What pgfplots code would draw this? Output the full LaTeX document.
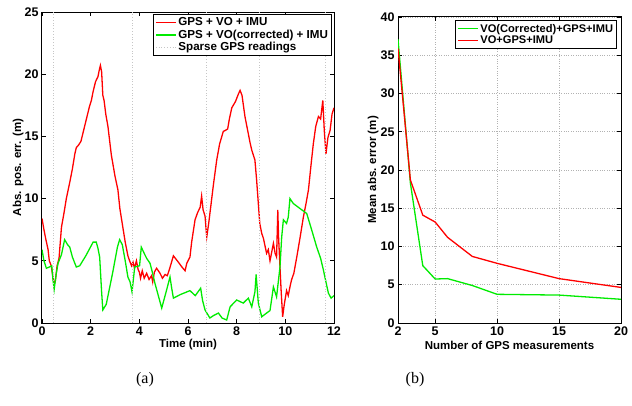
\documentclass[border=0pt]{standalone}
\usepackage{fontspec}
\setmainfont{Liberation Sans}
\newfontfamily\capfont{Liberation Serif}
\usepackage{pgfplots}
\pgfplotsset{compat=1.18}

\definecolor{mred}{RGB}{255,0,0}
\definecolor{mgreen}{RGB}{0,235,0}

\pgfplotsset{
  mstyle/.style={
    scale only axis, anchor=south west,
    tick align=inside, major tick length=4pt,
    tick style={black, line width=0.8pt},
    axis line style={line width=1pt},
    /pgf/number format/assume math mode=true,
    tick label style={font=\fontsize{12.5}{13}\selectfont\bfseries},
    label style={font=\fontsize{11.5}{13}\selectfont\bfseries},
    legend style={draw=black, line width=0.9pt,
      inner sep=1.5pt, row sep=-1.5pt, cells={anchor=west}},
    legend image code/.code={\draw[#1,line width=1.3pt] (0pt,0pt) -- (20pt,0pt);},
  },
}

\begin{document}
\begin{tikzpicture}[x=1pt,y=1pt]
\path[use as bounding box] (0,0) rectangle (632,405);

% (a) absolute position error over time
\begin{axis}[mstyle,
  at={(42pt,82pt)}, width=292pt, height=311pt,
  xmin=0, xmax=12, ymin=0, ymax=25,
  xtick={0,2,...,12}, ytick={0,5,...,25},
  xlabel={Time (min)}, ylabel={Abs. pos. err. (m)},
  xlabel style={at={(axis description cs:0.5,-0.068)}, anchor=center},
  ylabel style={at={(axis description cs:-0.082,0.5)}, anchor=center},
  legend style={at={(0.993,0.994)}, anchor=north east,
    font=\fontsize{11.6}{14}\selectfont\bfseries},
]
\addplot[mred, line width=1.3pt] coordinates {
(0,8.4) (0.08,7.5) (0.15,6.8) (0.25,5.9) (0.3,5.0) (0.38,4.6) (0.45,3.7) (0.5,3.1)
(0.55,3.4) (0.62,4.6) (0.7,5.2) (0.8,7.7) (0.9,8.8) (1.0,10.0) (1.14,11.3) (1.25,12.4)
(1.35,13.6) (1.41,14.1) (1.5,14.3) (1.6,14.6) (1.8,16.2) (1.95,17.4) (2.03,17.9) (2.1,18.6)
(2.2,19.4) (2.3,19.8) (2.35,20.3) (2.40,20.7) (2.45,20.2) (2.5,18.3) (2.55,17.9) (2.62,16.8)
(2.71,15.8) (2.85,13.5) (3.0,11.8) (3.12,10.7) (3.2,9.2) (3.33,7.6) (3.42,6.5) (3.53,5.4)
(3.6,5.0) (3.68,4.6) (3.74,4.9) (3.8,4.4) (3.88,5.0) (3.95,4.3) (4.0,4.1) (4.05,3.6)
(4.12,4.2) (4.2,3.6) (4.3,4.0) (4.4,3.5) (4.5,3.8) (4.55,3.3) (4.62,4.1) (4.71,4.4)
(4.85,4.0) (4.95,3.6) (5.06,3.9) (5.15,3.8) (5.25,4.4) (5.4,5.4) (5.6,4.9) (5.75,4.5)
(5.88,4.2) (5.95,4.8) (6.08,5.3) (6.15,6.5) (6.29,8.3) (6.4,8.9) (6.5,9.3) (6.56,10.2)
(6.62,9.1) (6.7,8.6) (6.77,6.9) (6.85,8.0) (6.95,9.6) (7.05,11.2) (7.18,13.1) (7.3,14.4)
(7.45,15.4) (7.55,15.5) (7.63,15.6) (7.7,16.4) (7.8,17.3) (7.95,17.8) (8.07,18.4) (8.14,18.7)
(8.22,18.3) (8.34,16.6) (8.45,15.5) (8.55,14.5) (8.62,13.9) (8.75,13.1) (8.82,11.5) (8.89,9.6)
(8.95,8.0) (9.03,7.2) (9.1,6.8) (9.23,5.6) (9.3,5.9) (9.37,5.0) (9.45,5.8) (9.51,6.4)
(9.58,5.6) (9.64,5.3) (9.67,7.5) (9.69,9.1) (9.72,7.0) (9.78,4.5) (9.83,2.5) (9.89,0.5)
(9.95,1.4) (10.05,2.6) (10.12,2.2) (10.2,3.0) (10.26,3.5) (10.35,4.0) (10.47,5.3) (10.6,6.8)
(10.74,8.5) (10.85,9.6) (10.95,10.7) (11.05,12.6) (11.15,14.4) (11.25,15.8) (11.36,16.6) (11.45,16.4)
(11.54,17.9) (11.6,15.5) (11.67,13.6) (11.75,14.9) (11.84,15.5) (11.92,16.8) (12.0,17.3)
};
\addlegendentry{GPS + VO + IMU}
\addplot[mgreen, line width=1.3pt] coordinates {
(0,5.9) (0.08,5.0) (0.18,4.4) (0.3,4.5) (0.4,4.6) (0.45,3.5) (0.5,2.7) (0.58,3.9)
(0.66,4.8) (0.8,5.5) (0.93,6.7) (1.05,6.3) (1.14,6.1) (1.25,5.3) (1.41,4.5) (1.55,4.6)
(1.8,5.4) (2.1,6.5) (2.23,6.5) (2.3,6.0) (2.37,5.3) (2.45,2.5) (2.5,1.05) (2.64,1.5)
(2.9,4.0) (3.1,6.1) (3.19,6.7) (3.3,6.3) (3.42,5.0) (3.53,3.7) (3.62,3.3) (3.7,2.5)
(3.81,4.5) (4.01,4.6) (4.08,6.1) (4.2,5.6) (4.3,5.2) (4.44,4.8) (4.52,4.2) (4.64,3.2)
(4.78,2.2) (4.92,1.2) (5.1,2.5) (5.26,3.7) (5.33,2.8) (5.4,2.0) (5.7,2.3) (6.08,2.6)
(6.3,2.2) (6.52,2.8) (6.6,1.8) (6.7,1.05) (6.9,0.4) (7.05,0.6) (7.25,0.8) (7.4,0.4)
(7.59,0.24) (7.73,1.3) (8.0,1.85) (8.27,1.6) (8.48,2.0) (8.62,1.3) (8.75,2.5) (8.8,3.9)
(8.89,1.6) (9.03,0.5) (9.23,0.8) (9.37,1.0) (9.51,2.9) (9.64,2.1) (9.78,4.5) (9.85,6.9)
(9.92,8.3) (10.05,8.0) (10.12,8.5) (10.19,10.0) (10.33,9.6) (10.88,8.8) (11.08,7.5) (11.29,6.1)
(11.45,5.2) (11.56,4.3) (11.68,3.2) (11.77,2.4) (11.88,2.0) (12.0,2.2)
};
\addlegendentry{GPS + VO(corrected) + IMU}
\addplot[gray!45, dotted, line width=0.8pt] coordinates {(0.48,0) (0.48,25)};
\addlegendentry{Sparse GPS readings}
\addplot[gray!45, dotted, line width=0.8pt, forget plot] coordinates {(3.7,0) (3.7,25)};
\addplot[gray!45, dotted, line width=0.8pt, forget plot] coordinates {(6.77,0) (6.77,25)};
\addplot[gray!45, dotted, line width=0.8pt, forget plot] coordinates {(8.95,0) (8.95,25)};
\addplot[gray!45, dotted, line width=0.8pt, forget plot] coordinates {(11.66,0) (11.66,25)};
\end{axis}

% (b) mean error vs number of GPS measurements
\begin{axis}[mstyle,
  at={(398pt,82pt)}, width=223pt, height=306pt,
  xmin=2, xmax=20, ymin=0, ymax=40,
  xtick={2,5,10,15,20}, ytick={0,5,...,40},
  grid=major, grid style={dotted, gray!60, line width=0.7pt},
  xlabel={Number of GPS measurements}, ylabel={Mean abs. error (m)},
  xlabel style={at={(axis description cs:0.5,-0.072)}, anchor=center},
  ylabel style={at={(axis description cs:-0.112,0.5)}, anchor=center},
  legend style={at={(0.982,0.99)}, anchor=north east,
    font=\fontsize{11.1}{13.5}\selectfont\bfseries},
]
\addplot[mgreen, line width=1.3pt] coordinates {
(2,37.1) (3,18.3) (4,7.5) (5,5.75) (6,5.8) (8,4.9) (10,3.75) (15,3.65) (20,3.1)
};
\addlegendentry{VO(Corrected)+GPS+IMU}
\addplot[mred, line width=1.3pt] coordinates {
(2,35.9) (3,18.7) (4,14.1) (5,13.2) (6,11.2) (8,8.7) (10,7.8) (15,5.8) (20,4.65)
};
\addlegendentry{VO+GPS+IMU}
\end{axis}

\node[font=\fontsize{16}{18}\selectfont\capfont] at (145,25) {(a)};
\node[font=\fontsize{16}{18}\selectfont\capfont] at (415,25) {(b)};
\end{tikzpicture}
\end{document}
